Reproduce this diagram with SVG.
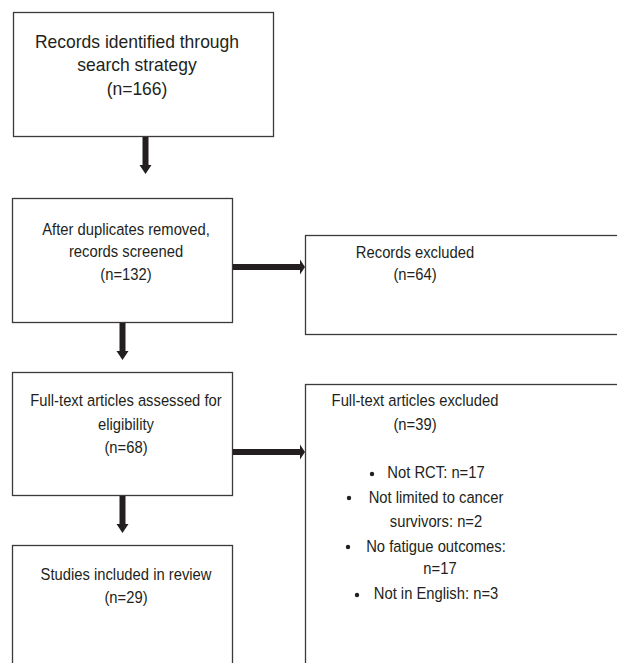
<svg xmlns="http://www.w3.org/2000/svg" width="617" height="663" viewBox="0 0 617 663">
<style>
.box{fill:#fff;stroke:#3a3a3a;stroke-width:1.3}
.t{font-family:"Liberation Sans",Arial,sans-serif;font-size:17.2px;fill:#231f20;text-anchor:middle}
.big{font-size:18.6px}
.arr{fill:#231f20}
</style>
<rect width="617" height="663" fill="#fff"/>
<g id="n1"><rect class="box" x="13.5" y="12.5" width="260" height="124"/>
<text class="t big" transform="translate(137 48) scale(0.94 1)">Records identified through</text>
<text class="t big" transform="translate(137 71) scale(0.94 1)">search strategy</text>
<text class="t big" transform="translate(137 95) scale(0.94 1)">(n=166)</text></g>
<g id="n2"><rect class="box" x="12.5" y="198.5" width="220" height="124"/>
<text class="t" transform="translate(126 235) scale(0.86 1)">After duplicates removed,</text>
<text class="t" transform="translate(126 257) scale(0.86 1)">records screened</text>
<text class="t" transform="translate(126 280) scale(0.86 1)">(n=132)</text></g>
<g id="n3"><rect class="box" x="305.5" y="235.5" width="320" height="99"/>
<text class="t" transform="translate(415 258) scale(0.86 1)">Records excluded</text>
<text class="t" transform="translate(415 280) scale(0.86 1)">(n=64)</text></g>
<g id="n4"><rect class="box" x="12.5" y="372.5" width="220" height="123"/>
<text class="t" transform="translate(126 406) scale(0.86 1)">Full-text articles assessed for</text>
<text class="t" transform="translate(126 430) scale(0.86 1)">eligibility</text>
<text class="t" transform="translate(126 453) scale(0.86 1)">(n=68)</text></g>
<g id="n5"><rect class="box" x="305.5" y="384.5" width="320" height="300"/>
<text class="t" transform="translate(415 406) scale(0.86 1)">Full-text articles excluded</text>
<text class="t" transform="translate(415 430) scale(0.86 1)">(n=39)</text>
<text class="t" transform="translate(436 478) scale(0.86 1)">Not RCT: n=17</text>
<text class="t" transform="translate(436 503) scale(0.86 1)">Not limited to cancer</text>
<text class="t" transform="translate(436 527) scale(0.86 1)">survivors: n=2</text>
<text class="t" transform="translate(436 552) scale(0.86 1)">No fatigue outcomes:</text>
<text class="t" transform="translate(440 574) scale(0.86 1)">n=17</text>
<text class="t" transform="translate(436 599) scale(0.86 1)">Not in English: n=3</text>
<circle class="arr" cx="372" cy="474" r="2.2"/>
<circle class="arr" cx="349" cy="498" r="2.2"/>
<circle class="arr" cx="348" cy="547" r="2.2"/>
<circle class="arr" cx="357" cy="595" r="2.2"/></g>
<g id="n6"><rect class="box" x="12.5" y="545.5" width="220" height="140"/>
<text class="t" transform="translate(126 580) scale(0.86 1)">Studies included in review</text>
<text class="t" transform="translate(126 603) scale(0.86 1)">(n=29)</text></g>
<g id="connectors">
<polygon class="arr" points="142.5,137 148.5,137 148.5,165 151.5,165 145.5,174 139.5,165 142.5,165"/>
<polygon class="arr" points="119.5,323 125.5,323 125.5,351 128.5,351 122.5,360 116.5,351 119.5,351"/>
<polygon class="arr" points="119.5,496 125.5,496 125.5,524 128.5,524 122.5,533 116.5,524 119.5,524"/>
<polygon class="arr" points="233,264 300,264 300,259.5 305,267 300,274.5 300,270 233,270"/>
<polygon class="arr" points="233,449 300,449 300,444.5 305,452 300,459.5 300,455 233,455"/>
</g>
</svg>
